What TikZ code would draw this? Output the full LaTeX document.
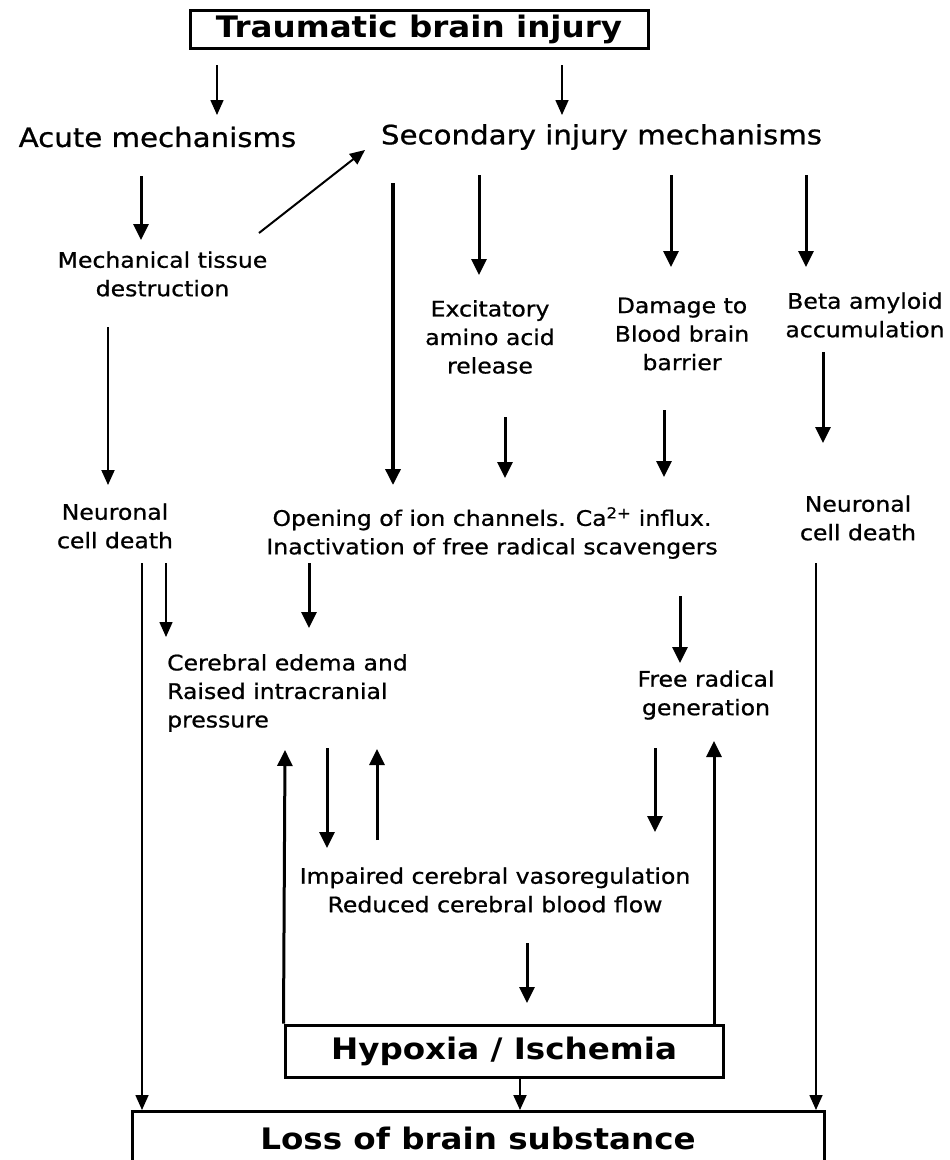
\documentclass[tikz,border=0pt]{standalone}
\usepackage{fontspec}
\setmainfont[FakeStretch=1.1,FakeBold=0.8]{DejaVu Sans}
\newfontfamily\boxfont[FakeStretch=1.1]{DejaVu Sans Bold}
\usetikzlibrary{arrows.meta}
\begin{document}
\begin{tikzpicture}[x=1pt,y=-1pt,
  txt/.style={inner sep=0pt, align=center, font=\fontsize{21.4}{28.5}\selectfont},
  bigtxt/.style={inner sep=0pt, font=\fontsize{26.6}{32}\selectfont},
  boxnode/.style={draw, line width=3pt, inner sep=0pt, font=\boxfont\fontsize{29.6}{34}\selectfont},
  thk/.style={line width=3pt, -{Triangle[length=16pt,width=15pt]}},
  thn/.style={line width=1.6pt, -{Triangle[length=15pt,width=13pt]}},
]
\useasboundingbox (0,0) rectangle (950,1160);
\fill[white] (0,0) rectangle (950,1160);

\node[boxnode, minimum width=458pt, minimum height=38pt] (tbi) at (419,29) {Traumatic brain injury};
\node[bigtxt] (acute) at (157.5,137) {Acute mechanisms};
\node[bigtxt] (sec) at (601.5,137) {Secondary injury mechanisms};
\node[txt] (mech) at (162.5,274) {Mechanical tissue\\destruction};
\node[txt] (exc) at (490,337) {Excitatory\\amino acid\\release};
\node[txt] (bbb) at (682,334) {Damage to\\Blood brain\\barrier};
\node[txt] (beta) at (865,315) {Beta amyloid\\accumulation};
\node[txt] (ncdL) at (115,526) {Neuronal\\cell death};
\node[txt] (ion) at (492,533) {Opening of ion channels. Ca\textsuperscript{2+} influx.\\Inactivation of free radical scavengers};
\node[txt] (ncdR) at (858,518) {Neuronal\\cell death};
\node[txt, align=left, anchor=west] (edema) at (167,693) {Cerebral edema and\\Raised intracranial\\pressure};
\node[txt] (frg) at (706,695) {Free radical\\generation};
\node[txt] (imp) at (495,890) {Impaired cerebral vasoregulation\\Reduced cerebral blood flow};
\node[boxnode, minimum width=438pt, minimum height=52pt] (hyp) at (504,1051) {Hypoxia / Ischemia};
\node[boxnode, minimum width=692pt, minimum height=54pt, anchor=north] (loss) at (478,1110) {Loss of brain substance};

\draw[thn] (217,65) -- (217,115);
\draw[thn] (562,65) -- (562,115);
\draw[thk] (141,176) -- (141,240);
\draw[thn, line width=2pt] (259,233) -- (365,150);
\draw[thk, line width=3.5pt] (393,183) -- (393,485);
\draw[thk] (479,175) -- (479,275);
\draw[thk] (671,175) -- (671,267);
\draw[thk] (806,175) -- (806,267);
\draw[thn, line width=2pt] (108,327) -- (108,485);
\draw[thk] (505,417) -- (505,478);
\draw[thk] (664,410) -- (664,477);
\draw[thk] (823,352) -- (823,443);
\draw[thn] (142,563) -- (loss.north -| 142,0);
\draw[thn] (166,563) -- (166,637);
\draw[thk] (309,563) -- (309,628);
\draw[thn] (816,563) -- (loss.north -| 816,0);
\draw[thk] (680,596) -- (680,663);
\draw[thk] (hyp.north west) -- (285,750);
\draw[thk] (327,748) -- (327,848);
\draw[thk] (377,840) -- (377,749);
\draw[thk] (655,748) -- (655,832);
\draw[thk] (hyp.north -| 714,0) -- (714,741);
\draw[thk] (527,943) -- (527,1003);
\draw[thn, line width=2pt] (hyp.south -| 520,0) -- (loss.north -| 520,0);
\end{tikzpicture}
\end{document}
